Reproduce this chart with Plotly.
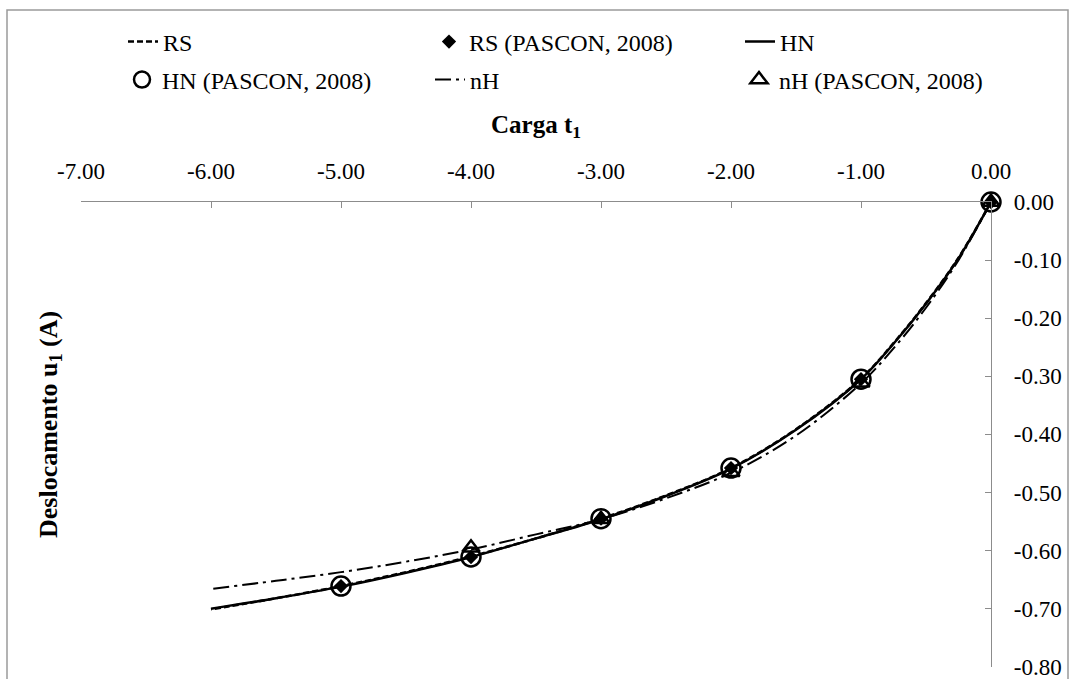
import plotly.graph_objects as go

# Load t1 sampled along the model curves
load_curve = [0.0, -0.25, -0.5, -0.75, -1.0, -1.5, -2.0, -2.5, -3.0, -3.5, -4.0, -4.5, -5.0, -5.5, -6.0]
rs_curve = [0.0, -0.096, -0.174, -0.243, -0.304, -0.391, -0.458, -0.505, -0.545, -0.579, -0.610, -0.637, -0.661, -0.682, -0.701]
hn_curve = [0.0, -0.097, -0.175, -0.244, -0.305, -0.392, -0.459, -0.506, -0.546, -0.579, -0.611, -0.638, -0.662, -0.682, -0.700]
nh_curve = [0.0, -0.100, -0.182, -0.252, -0.312, -0.402, -0.466, -0.510, -0.546, -0.572, -0.598, -0.619, -0.637, -0.652, -0.666]

# Reference results (PASCON, 2008)
load_ref = [0.0, -1.0, -2.0, -3.0, -4.0, -5.0]
rs_ref = [0.0, -0.305, -0.458, -0.545, -0.611, -0.661]
hn_ref = [0.0, -0.305, -0.458, -0.545, -0.611, -0.661]
load_ref_nh = [0.0, -1.0, -2.0, -3.0, -4.0]
nh_ref = [0.0, -0.311, -0.465, -0.546, -0.595]

x_ticks = [-7, -6, -5, -4, -3, -2, -1, 0]
x_ticktext = ["-7.00", "-6.00", "-5.00", "-4.00", "-3.00", "-2.00", "-1.00", "0.00"]
y_ticks = [0.0, -0.1, -0.2, -0.3, -0.4, -0.5, -0.6, -0.7, -0.8]
y_ticktext = ["0.00", "-0.10", "-0.20", "-0.30", "-0.40", "-0.50", "-0.60", "-0.70", "-0.80"]

SERIF = "Liberation Serif, Times New Roman, serif"
W, H = 1073, 679
L, R, T, B = 81, 82, 202, 12
plot_w = W - L - R
plot_h = H - T - B

fig = go.Figure()

fig.add_trace(go.Scatter(x=load_curve, y=rs_curve, mode="lines", name="RS",
                         line=dict(color="black", width=2.5, dash="6px,3px", shape="spline"),
                         legend="legend"))
fig.add_trace(go.Scatter(x=load_ref, y=rs_ref, mode="markers", name="RS (PASCON, 2008)",
                         marker=dict(symbol="diamond", size=11, color="black"),
                         cliponaxis=False, legend="legend2"))
fig.add_trace(go.Scatter(x=load_curve, y=hn_curve, mode="lines", name="HN",
                         line=dict(color="black", width=2.5, shape="spline"),
                         legend="legend3"))
fig.add_trace(go.Scatter(x=load_ref, y=hn_ref, mode="markers", name="HN (PASCON, 2008)",
                         marker=dict(symbol="circle-open", size=19, color="black",
                                     line=dict(width=2.5, color="black")),
                         cliponaxis=False, legend="legend4"))
fig.add_trace(go.Scatter(x=load_curve, y=nh_curve, mode="lines", name="nH",
                         line=dict(color="black", width=2, dash="16px,5px,3px,5px", shape="spline"),
                         legend="legend5"))
fig.add_trace(go.Scatter(x=load_ref_nh, y=nh_ref, mode="markers", name="nH (PASCON, 2008)",
                         marker=dict(symbol="triangle-up-open", size=15, color="black",
                                     line=dict(width=2.5, color="black")),
                         cliponaxis=False, legend="legend6"))


def to_paper_x(px):
    return (px - L) / plot_w


def to_paper_y(py):
    return (H - B - py) / plot_h


def legend_at(px, py):
    """Single-entry legend placed at pixel position (left edge, vertical centre)."""
    return dict(x=to_paper_x(px), y=to_paper_y(py), xref="paper", yref="paper",
                xanchor="left", yanchor="middle", bgcolor="rgba(0,0,0,0)",
                font=dict(family=SERIF, size=24, color="black"),
                borderwidth=0, itemwidth=30)


fig.update_layout(
    width=W, height=H,
    margin=dict(l=L, r=R, t=T, b=B, autoexpand=False),
    paper_bgcolor="white", plot_bgcolor="white",
    font=dict(family=SERIF, size=23, color="black"),
    showlegend=True,
    legend=legend_at(123, 42),
    legend2=legend_at(429, 42),
    legend3=legend_at(740, 42),
    legend4=legend_at(122, 80),
    legend5=legend_at(430, 80),
    legend6=legend_at(739, 80),
    xaxis=dict(range=[-7, 0], side="top", tickvals=x_ticks, ticktext=x_ticktext,
               showline=True, linecolor="#8c8c8c", linewidth=1.3,
               ticks="inside", ticklen=6, tickcolor="#8c8c8c",
               showgrid=False, zeroline=False, ticklabelstandoff=13,
               automargin=False, ticklabeloverflow="allow",
               tickfont=dict(family=SERIF, size=23, color="black")),
    yaxis=dict(range=[-0.8003, 0], side="right", tickvals=y_ticks, ticktext=y_ticktext,
               showline=True, linecolor="#8c8c8c", linewidth=1.3,
               ticks="inside", ticklen=6, tickcolor="#8c8c8c",
               showgrid=False, zeroline=False, ticklabelstandoff=17,
               automargin=False, ticklabeloverflow="allow",
               tickfont=dict(family=SERIF, size=23, color="black")),
    shapes=[dict(type="rect", xref="paper", yref="paper",
                 x0=to_paper_x(7), x1=to_paper_x(1068),
                 y0=to_paper_y(690), y1=to_paper_y(10),
                 line=dict(color="#9a9a9a", width=1.5), fillcolor="rgba(0,0,0,0)",
                 layer="below")],
    annotations=[
        dict(text="<b>Carga t<sub>1</sub></b>", xref="paper", yref="paper",
             x=0.5, y=to_paper_y(126), xanchor="center", yanchor="middle",
             showarrow=False, font=dict(family=SERIF, size=25, color="black")),
        dict(text="<b>Deslocamento u<sub>1</sub> (A)</b>", xref="paper", yref="paper",
             x=to_paper_x(50), y=to_paper_y(425), xanchor="center", yanchor="middle",
             textangle=-90, showarrow=False,
             font=dict(family=SERIF, size=26, color="black")),
    ],
)

fig.write_html("out.html")
